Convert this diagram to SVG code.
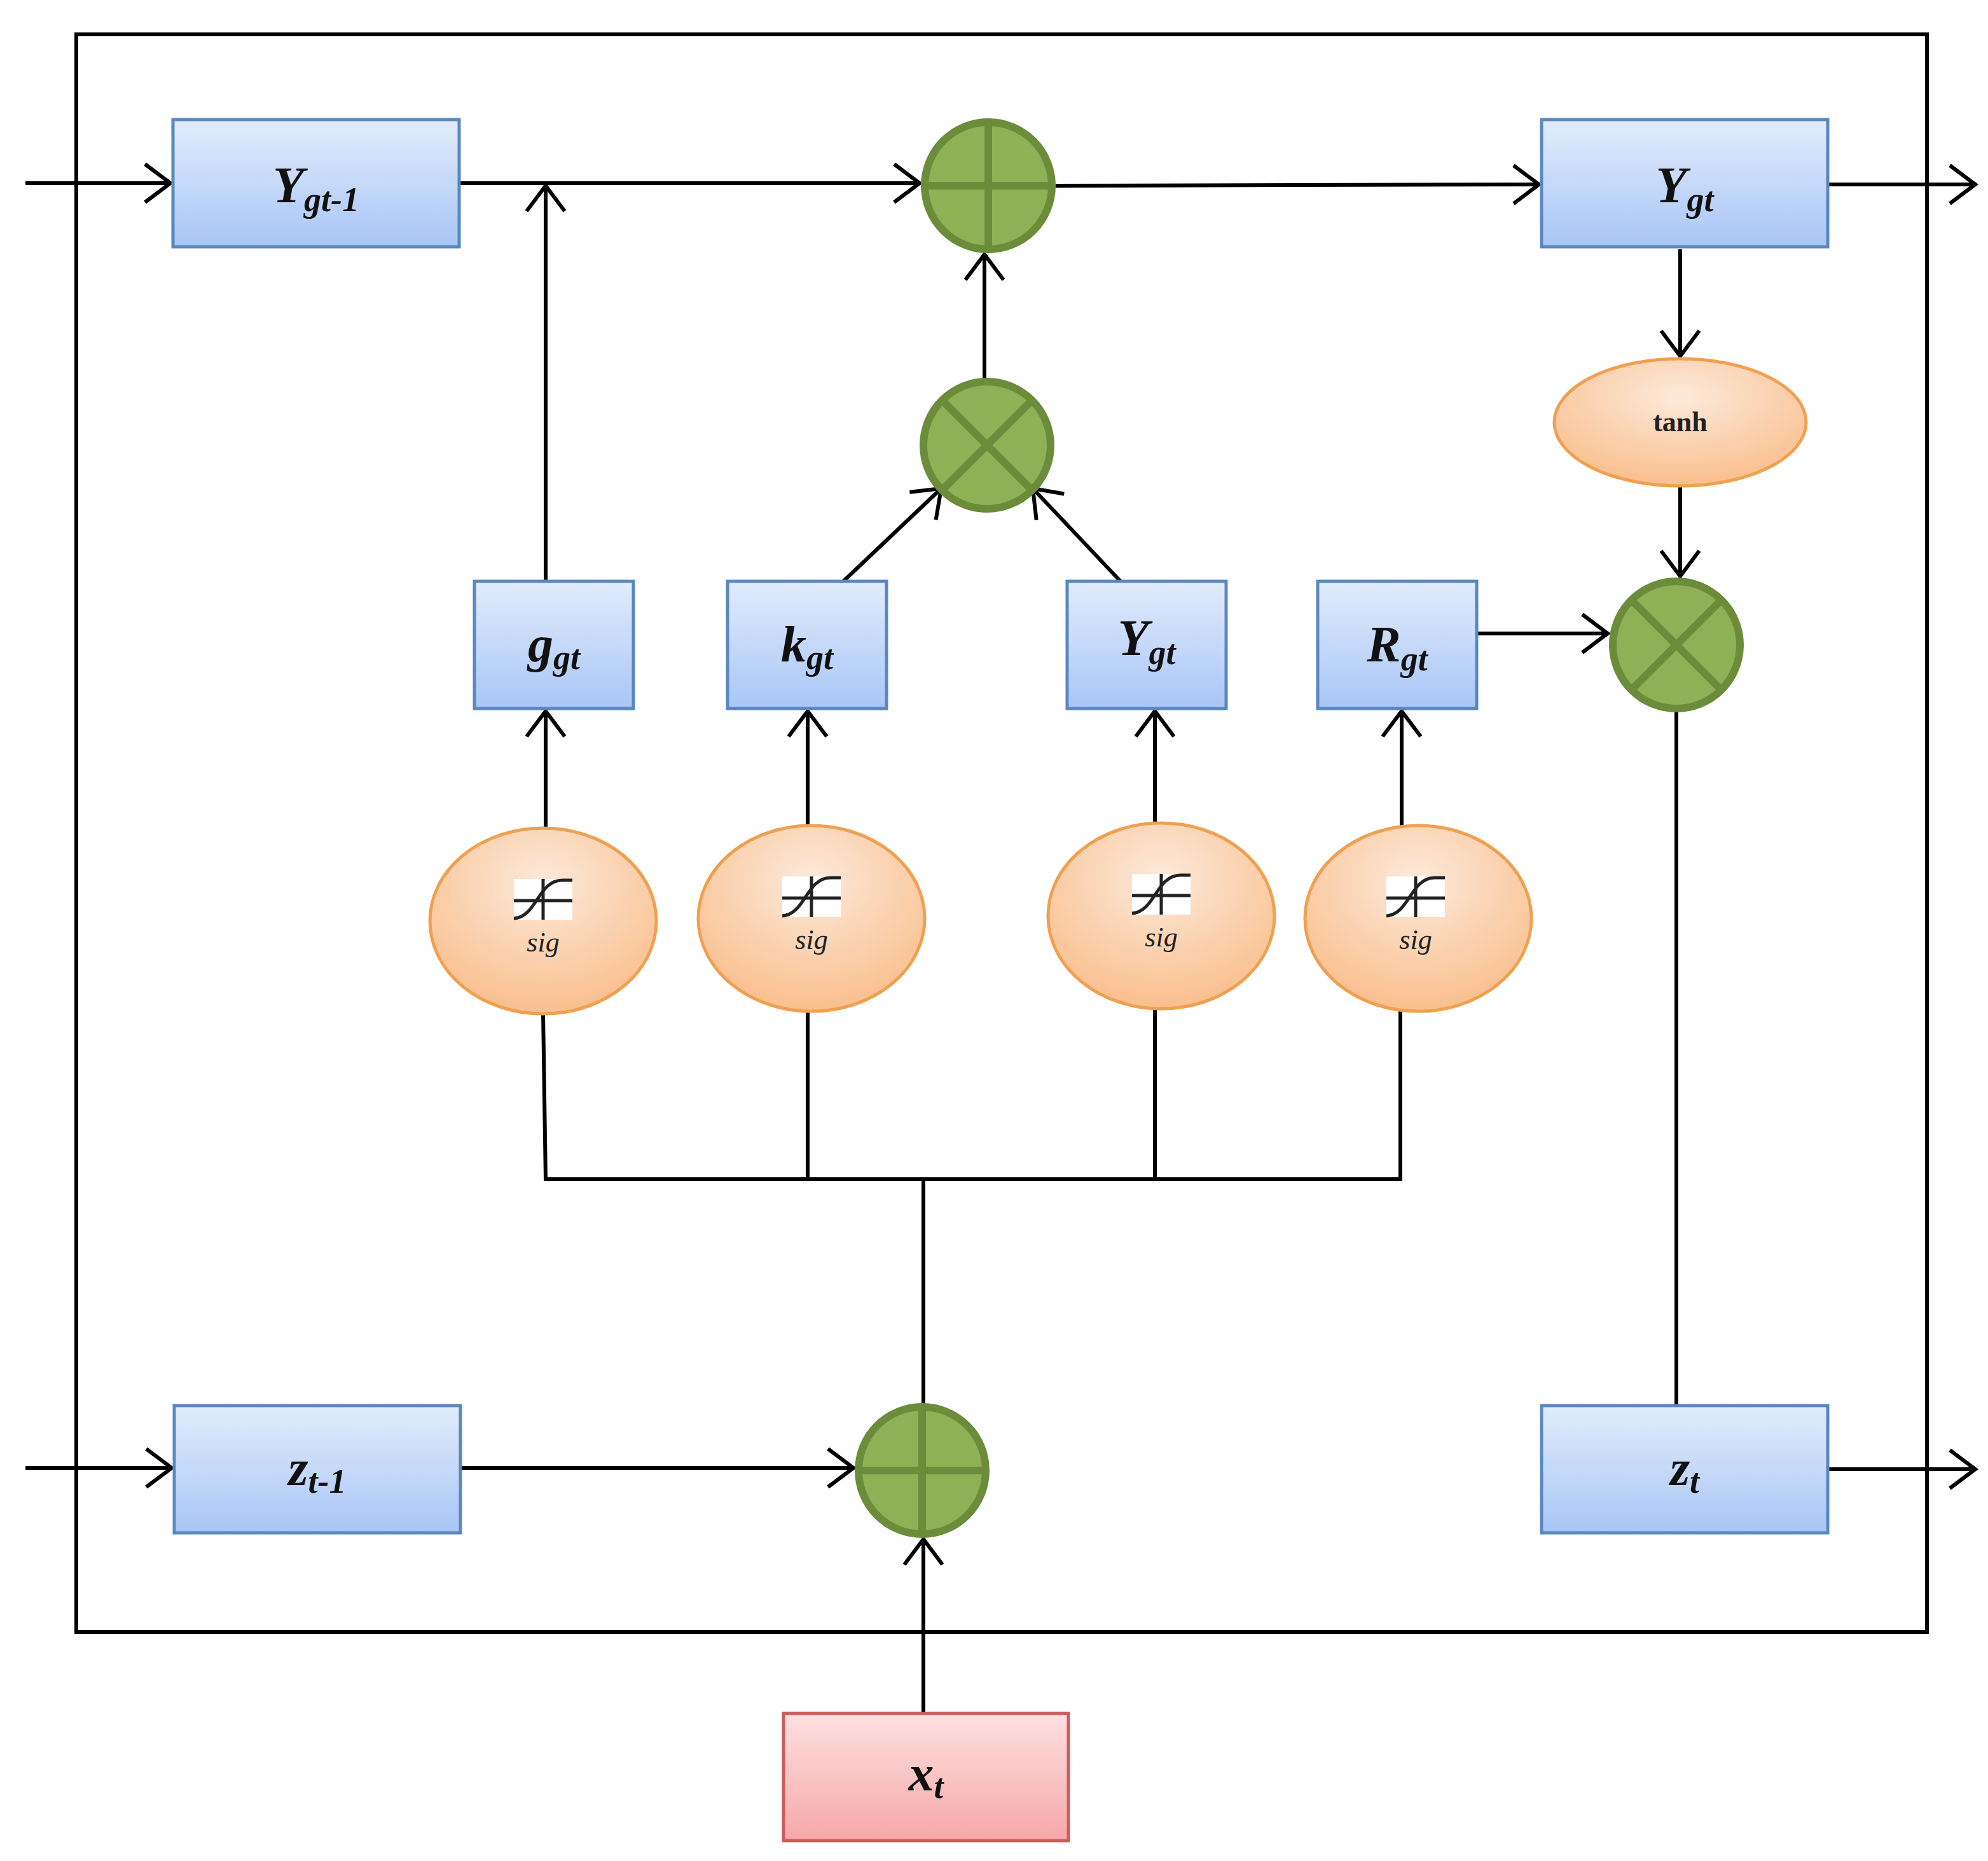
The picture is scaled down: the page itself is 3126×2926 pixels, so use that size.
<svg xmlns="http://www.w3.org/2000/svg" width="3126" height="2926" viewBox="0 0 3126 2926">
<style>
.box{fill:url(#blue);stroke:#5a87c0;stroke-width:5}
.pbox{fill:url(#pink);stroke:#cf5a5a;stroke-width:5}
.ell{fill:url(#orange);stroke:#f0a050;stroke-width:5}
.op{fill:#8db255;stroke:#6b8c3a;stroke-width:12}
.opl{stroke:#6b8c3a;stroke-width:12}
.c{stroke:#000;stroke-width:6;fill:none}
.a{marker-end:url(#arr)}
.t{font-family:"Liberation Serif",serif;font-weight:bold;font-style:italic;font-size:80px;text-anchor:middle;fill:#111}
.s{font-size:54px}
.sig{font-family:"Liberation Serif",serif;font-style:italic;font-size:44px;text-anchor:middle;fill:#222}
</style>
<defs>
<linearGradient id="blue" x1="0" y1="0" x2="0" y2="1"><stop offset="0" stop-color="#e2ecfc"/><stop offset="1" stop-color="#a8c6f6"/></linearGradient>
<linearGradient id="pink" x1="0" y1="0" x2="0" y2="1"><stop offset="0" stop-color="#fde0e0"/><stop offset="1" stop-color="#f6a8a8"/></linearGradient>
<radialGradient id="orange" cx="0.5" cy="0.3" r="0.7"><stop offset="0" stop-color="#fde9d9"/><stop offset="1" stop-color="#f9bf8e"/></radialGradient>
<marker id="arr" markerWidth="20" markerHeight="20" refX="17" refY="10" orient="auto" markerUnits="userSpaceOnUse" viewBox="0 0 20 20">
<path d="M0,0 L17,10 L0,20" fill="none" stroke="#000" stroke-width="3"/>
</marker>
<marker id="arrb" markerWidth="70" markerHeight="70" refX="60" refY="35" orient="auto" markerUnits="userSpaceOnUse" viewBox="0 0 70 70">
<path d="M20,5 L60,35 L20,65" fill="none" stroke="#000" stroke-width="6"/>
</marker>
<g id="sigicon">
<rect x="-46" y="-34" width="92" height="64" fill="#fff"/>
<path d="M-46,0 H46 M0,-34 V30" stroke="#222" stroke-width="5" fill="none"/>
<path d="M-46,28 C-10,26 -8,-32 30,-32 H46" stroke="#222" stroke-width="5" fill="none"/>
</g>
</defs>
<rect width="3126" height="2926" fill="#fff"/>
<rect x="120" y="54" width="2910" height="2512" fill="none" stroke="#000" stroke-width="6"/>

<g id="connectors" class="c">
<line x1="40" y1="288" x2="268" y2="288" marker-end="url(#arrb)"/>
<line x1="722" y1="288" x2="1446" y2="288" marker-end="url(#arrb)"/>
<line x1="858" y1="914" x2="858" y2="292" marker-end="url(#arrb)"/>
<line x1="1660" y1="292" x2="2420" y2="290" marker-end="url(#arrb)"/>
<line x1="2874" y1="290" x2="3106" y2="290" marker-end="url(#arrb)"/>
<line x1="2642" y1="392" x2="2642" y2="560" marker-end="url(#arrb)"/>
<line x1="2642" y1="764" x2="2642" y2="906" marker-end="url(#arrb)"/>
<line x1="2322" y1="996" x2="2528" y2="996" marker-end="url(#arrb)"/>
<line x1="2636" y1="1118" x2="2636" y2="2210"/>
<line x1="1548" y1="596" x2="1548" y2="400" marker-end="url(#arrb)"/>
<line x1="1326" y1="914" x2="1480" y2="768" marker-end="url(#arrb)"/>
<line x1="1762" y1="914" x2="1624" y2="768" marker-end="url(#arrb)"/>
<line x1="858" y1="1302" x2="858" y2="1118" marker-end="url(#arrb)"/>
<line x1="1270" y1="1298" x2="1270" y2="1118" marker-end="url(#arrb)"/>
<line x1="1816" y1="1294" x2="1816" y2="1118" marker-end="url(#arrb)"/>
<line x1="2204" y1="1298" x2="2204" y2="1118" marker-end="url(#arrb)"/>
<polyline points="854,1594 858,1854 2202,1854 2202,1590"/>
<line x1="1270" y1="1590" x2="1270" y2="1854"/>
<line x1="1816" y1="1586" x2="1816" y2="1854"/>
<line x1="1452" y1="1854" x2="1452" y2="2208"/>
<line x1="1452" y1="2694" x2="1452" y2="2420" marker-end="url(#arrb)"/>
<line x1="40" y1="2308" x2="270" y2="2308" marker-end="url(#arrb)"/>
<line x1="724" y1="2308" x2="1342" y2="2308" marker-end="url(#arrb)"/>
<line x1="2874" y1="2310" x2="3106" y2="2310" marker-end="url(#arrb)"/>
</g>

<g id="Ygt1"><rect class="box" x="272" y="188" width="450" height="200"/><text class="t" x="497" y="318">Y<tspan class="s" dy="14">gt-1</tspan></text></g>
<g id="Ygt"><rect class="box" x="2424" y="188" width="450" height="200"/><text class="t" x="2649" y="318">Y<tspan class="s" dy="14">gt</tspan></text></g>
<g id="zt1"><rect class="box" x="274" y="2210" width="450" height="200"/><text class="t" x="499" y="2335">z<tspan class="s" dy="12">t-1</tspan></text></g>
<g id="zt"><rect class="box" x="2424" y="2210" width="450" height="200"/><text class="t" x="2649" y="2335">z<tspan class="s" dy="12">t</tspan></text></g>
<g id="xt"><rect class="pbox" x="1232" y="2694" width="448" height="200"/><text class="t" x="1456" y="2815">x<tspan class="s" dy="12">t</tspan></text></g>
<g id="g"><rect class="box" x="746" y="914" width="250" height="200"/><text class="t" x="871" y="1040">g<tspan class="s" dy="12">gt</tspan></text></g>
<g id="k"><rect class="box" x="1144" y="914" width="250" height="200"/><text class="t" x="1269" y="1040">k<tspan class="s" dy="12">gt</tspan></text></g>
<g id="Ymid"><rect class="box" x="1678" y="914" width="250" height="200"/><text class="t" x="1803" y="1030">Y<tspan class="s" dy="14">gt</tspan></text></g>
<g id="R"><rect class="box" x="2072" y="914" width="250" height="200"/><text class="t" x="2197" y="1040">R<tspan class="s" dy="14">gt</tspan></text></g>

<g id="tanh"><ellipse class="ell" cx="2642" cy="664" rx="198" ry="100"/><text x="2642" y="678" font-family="Liberation Serif,serif" font-weight="bold" font-size="44" text-anchor="middle" fill="#222">tanh</text></g>
<g id="sig1"><ellipse class="ell" cx="854" cy="1448" rx="178" ry="146"/><use href="#sigicon" x="854" y="1416"/><text class="sig" x="854" y="1496">sig</text></g>
<g id="sig2"><ellipse class="ell" cx="1276" cy="1444" rx="178" ry="146"/><use href="#sigicon" x="1276" y="1412"/><text class="sig" x="1276" y="1492">sig</text></g>
<g id="sig3"><ellipse class="ell" cx="1826" cy="1440" rx="178" ry="146"/><use href="#sigicon" x="1826" y="1408"/><text class="sig" x="1826" y="1488">sig</text></g>
<g id="sig4"><ellipse class="ell" cx="2230" cy="1444" rx="178" ry="146"/><use href="#sigicon" x="2226" y="1412"/><text class="sig" x="2226" y="1492">sig</text></g>

<g id="plusTop"><circle class="op" cx="1554" cy="292" r="100"/><path class="opl" d="M1454,292 H1654 M1554,192 V392"/></g>
<g id="timesMid"><circle class="op" cx="1552" cy="700" r="100"/><path class="opl" d="M1481,629 L1623,771 M1623,629 L1481,771"/></g>
<g id="timesRight"><circle class="op" cx="2636" cy="1014" r="100"/><path class="opl" d="M2565,943 L2707,1085 M2707,943 L2565,1085"/></g>
<g id="plusBottom"><circle class="op" cx="1450" cy="2312" r="100"/><path class="opl" d="M1350,2312 H1550 M1450,2212 V2412"/></g>
</svg>
